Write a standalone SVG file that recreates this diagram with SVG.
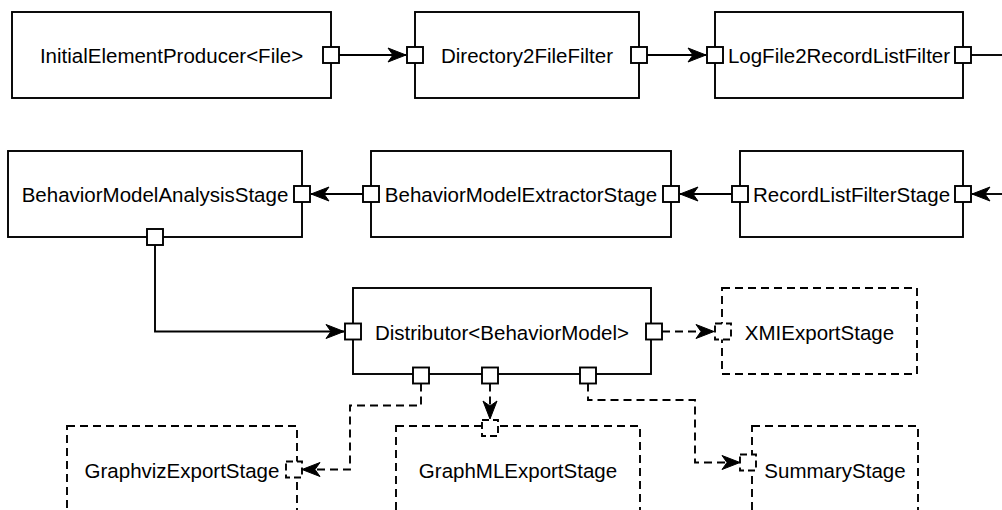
<svg xmlns="http://www.w3.org/2000/svg" width="1002" height="510" viewBox="0 0 1002 510">
<style>
.box{fill:#fff;stroke:#000;stroke-width:1.9}
.dbox{fill:#fff;stroke:#000;stroke-width:1.9;stroke-dasharray:8 5}
.port{fill:#fff;stroke:#000;stroke-width:1.9}
.dport{fill:#fff;stroke:#000;stroke-width:1.9;stroke-dasharray:7 4}
.lbl{font-family:"Liberation Sans",Arial,sans-serif;font-size:20.5px;fill:#000;text-anchor:middle}
.edge{fill:none;stroke:#000;stroke-width:1.9}
.dedge{fill:none;stroke:#000;stroke-width:1.9;stroke-dasharray:8 5}
</style>
<defs>
<marker id="arr" markerUnits="userSpaceOnUse" viewBox="-20 -9 21 18" markerWidth="21" markerHeight="18" refX="0" refY="0" orient="auto">
<path d="M0,0 L-18,-7 L-13,0 L-18,7 Z" fill="#000" stroke="#000" stroke-width="1"/>
</marker>
</defs>
<g id="connectors">
<path class="edge" d="M339,55 H406" marker-end="url(#arr)"/>
<path class="edge" d="M647,55 H706" marker-end="url(#arr)"/>
<path class="edge" d="M971,55 H1002"/>
<path class="edge" d="M1002,194 H972" marker-end="url(#arr)"/>
<path class="edge" d="M732,194 H680" marker-end="url(#arr)"/>
<path class="edge" d="M363,194 H311" marker-end="url(#arr)"/>
<path class="edge" d="M155,245 V331.5 H344" marker-end="url(#arr)"/>
<path class="dedge" d="M662,331.5 H714" marker-end="url(#arr)"/>
<path class="dedge" d="M421,383.5 V405.5 H350 V469.5 H302" marker-end="url(#arr)"/>
<path class="dedge" d="M490,383.5 V419" marker-end="url(#arr)"/>
<path class="dedge" d="M588,383.5 V400 H695 V462.5 H740" marker-end="url(#arr)"/>
</g>
<g id="n1">
<rect class="box" x="12" y="12" width="319" height="86"/>
<text class="lbl" x="171.5" y="63">InitialElementProducer&lt;File&gt;</text>
<rect class="port" x="323" y="47" width="16" height="16"/>
</g>
<g id="n2">
<rect class="box" x="415" y="12" width="224" height="86"/>
<text class="lbl" x="527" y="63">Directory2FileFilter</text>
<rect class="port" x="407" y="47" width="16" height="16"/>
<rect class="port" x="631" y="47" width="16" height="16"/>
</g>
<g id="n3">
<rect class="box" x="715" y="12" width="248" height="86"/>
<text class="lbl" x="839" y="63">LogFile2RecordListFilter</text>
<rect class="port" x="707" y="47" width="16" height="16"/>
<rect class="port" x="955" y="47" width="16" height="16"/>
</g>
<g id="n4">
<rect class="box" x="8" y="151" width="294" height="86"/>
<text class="lbl" x="155" y="202">BehaviorModelAnalysisStage</text>
<rect class="port" x="294" y="186" width="16" height="16"/>
<rect class="port" x="147" y="229" width="16" height="16"/>
</g>
<g id="n5">
<rect class="box" x="371" y="151" width="300" height="86"/>
<text class="lbl" x="521" y="202">BehaviorModelExtractorStage</text>
<rect class="port" x="363" y="186" width="16" height="16"/>
<rect class="port" x="663" y="186" width="16" height="16"/>
</g>
<g id="n6">
<rect class="box" x="740" y="151" width="223" height="86"/>
<text class="lbl" x="851.5" y="202">RecordListFilterStage</text>
<rect class="port" x="732" y="186" width="16" height="16"/>
<rect class="port" x="955" y="186" width="16" height="16"/>
</g>
<g id="n7">
<rect class="box" x="353" y="288" width="298" height="86"/>
<text class="lbl" x="502" y="340">Distributor&lt;BehaviorModel&gt;</text>
<rect class="port" x="345" y="323.5" width="16" height="16"/>
<rect class="port" x="646" y="323.5" width="16" height="16"/>
<rect class="port" x="413" y="367.5" width="16" height="16"/>
<rect class="port" x="482" y="367.5" width="16" height="16"/>
<rect class="port" x="580" y="367.5" width="16" height="16"/>
</g>
<g id="n8">
<rect class="dbox" x="722" y="288" width="195" height="86"/>
<text class="lbl" x="819.5" y="340">XMIExportStage</text>
<rect class="dport" x="715" y="323.5" width="16" height="16"/>
</g>
<g id="n9">
<rect class="dbox" x="67" y="426" width="230" height="110"/>
<text class="lbl" x="182" y="478">GraphvizExportStage</text>
<rect class="dport" x="286" y="461.5" width="16" height="16"/>
</g>
<g id="n10">
<rect class="dbox" x="396" y="426" width="244" height="110"/>
<text class="lbl" x="518" y="478">GraphMLExportStage</text>
<rect class="dport" x="482" y="420" width="16" height="16"/>
</g>
<g id="n11">
<rect class="dbox" x="752" y="426" width="166" height="110"/>
<text class="lbl" x="835" y="478">SummaryStage</text>
<rect class="dport" x="740" y="454.5" width="16" height="16"/>
</g>
</svg>
